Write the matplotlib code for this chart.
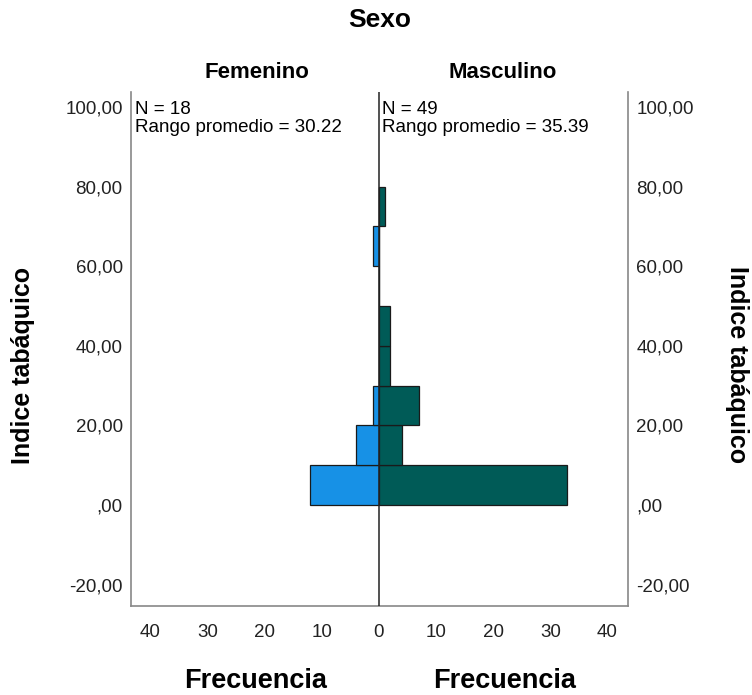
import numpy as np
import matplotlib.pyplot as plt

plt.rcParams['font.family'] = ['Liberation Sans', 'DejaVu Sans']

# bins of Indice tabáquico (lower edges, width 10)
bin_starts = [0, 10, 20, 30, 40, 50, 60, 70]
femenino = [12, 4, 1, 0, 0, 0, 1, 0]
masculino = [33, 4, 7, 2, 2, 0, 0, 1]
bin_width = 10

n_fem = 18
n_mas = 49
rango_fem = 30.22
rango_mas = 35.39

y_ticks = [-20, 0, 20, 40, 60, 80, 100]
x_ticks = [-40, -30, -20, -10, 0, 10, 20, 30, 40]

col_fem = '#1791E6'
col_mas = '#005B57'

fig = plt.figure(figsize=(7.52, 6.95), dpi=100)
ax = fig.add_axes([131 / 752, 1 - 606 / 695, 497 / 752, 514 / 695])

ax.barh(bin_starts, [-v for v in femenino], height=bin_width, align='edge',
        color=col_fem, edgecolor='#1a1a1a', linewidth=0.9)
ax.barh(bin_starts, masculino, height=bin_width, align='edge',
        color=col_mas, edgecolor='#1a1a1a', linewidth=0.9)
ax.axvline(0, color='#222222', linewidth=1.1, zorder=3)

ax.set_xlim(-43.4, 43.6)
ax.set_ylim(-25.4, 103.8)


def fmt(v):
    s = f"{v:.2f}".replace('.', ',')
    return ',00' if v == 0 else s


ax.set_xticks(x_ticks)
ax.set_xticklabels([str(abs(t)) for t in x_ticks])
ax.set_yticks(y_ticks)
ax.set_yticklabels([fmt(t) for t in y_ticks])
ax.tick_params(axis='both', length=0, labelsize=13.5, colors='#222222')
ax.tick_params(axis='y', pad=6, labelright=True)
ax.tick_params(axis='x', pad=13)

for side in ['left', 'right', 'bottom']:
    ax.spines[side].set_color('#888888')
    ax.spines[side].set_linewidth(1.2)
ax.spines['top'].set_visible(False)

# annotations with counts and mean ranks
ax.text(-42.7, 101.6, f"N = {n_fem}\nRango promedio = {rango_fem:.2f}",
        fontsize=13.5, va='top', ha='left', linespacing=1.12)
ax.text(0.6, 101.6, f"N = {n_mas}\nRango promedio = {rango_mas:.2f}",
        fontsize=13.5, va='top', ha='left', linespacing=1.12)

fig.text(380 / 752, 1 - 20 / 695, "Sexo", fontsize=19, fontweight='bold',
         ha='center', va='center')
fig.text(257 / 752, 1 - 73 / 695, "Femenino", fontsize=16, fontweight='bold',
         ha='center', va='center')
fig.text(503 / 752, 1 - 73 / 695, "Masculino", fontsize=16, fontweight='bold',
         ha='center', va='center')
fig.text(256 / 752, 1 - 681 / 695, "Frecuencia", fontsize=19.5, fontweight='bold',
         ha='center', va='center')
fig.text(505 / 752, 1 - 681 / 695, "Frecuencia", fontsize=19.5, fontweight='bold',
         ha='center', va='center')
fig.text(23 / 752, 1 - 365 / 695, "Indice tabáquico", fontsize=18, fontweight='bold',
         ha='center', va='center', rotation=90)
fig.text(737 / 752, 1 - 365 / 695, "Indice tabáquico", fontsize=18, fontweight='bold',
         ha='center', va='center', rotation=-90)

fig.savefig('out.png', dpi=100)
